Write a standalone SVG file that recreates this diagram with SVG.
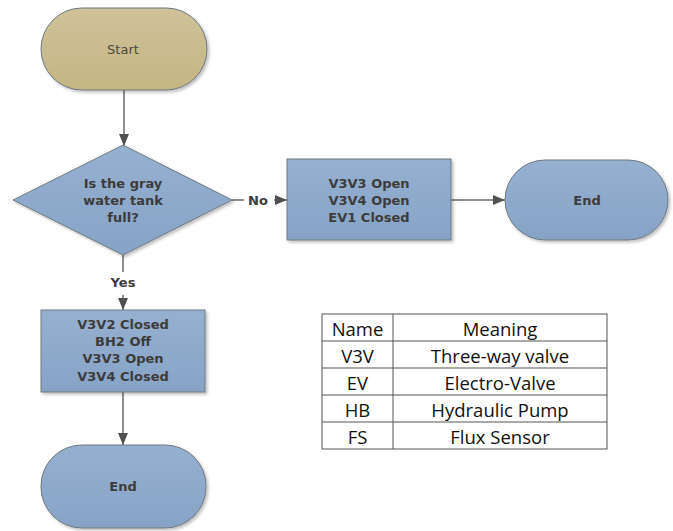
<svg xmlns="http://www.w3.org/2000/svg" width="673" height="531" viewBox="0 0 673 531">
  <style>
    .shape { stroke: #6f7880; stroke-width: 1; }
    .blue { fill: url(#blueFill); }
    .tan { fill: url(#tanFill); }
    .lbl { font-family: "DejaVu Sans", Verdana, sans-serif; font-size: 13px; font-weight: bold; fill: #3c3c3c; text-anchor: middle; }
    .start { font-family: "DejaVu Sans", Verdana, sans-serif; font-size: 13px; fill: #4a4a42; text-anchor: middle; }
    .edge { stroke: #6a6a6a; stroke-width: 1.5; fill: none; }
    .elbl { font-family: "DejaVu Sans", Verdana, sans-serif; font-size: 13px; font-weight: bold; fill: #3c3c3c; text-anchor: middle; }
    .tbl { font-family: "Open Sans", Lato, sans-serif; font-size: 18.5px; fill: #111; text-anchor: middle; }
    .grid { stroke: #555; stroke-width: 1; fill: none; }
  </style>
  <defs>
    <linearGradient id="blueFill" x1="0" y1="0" x2="0" y2="1">
      <stop offset="0" stop-color="#96b0d0"/>
      <stop offset="1" stop-color="#86a3c6"/>
    </linearGradient>
    <linearGradient id="tanFill" x1="0" y1="0" x2="0" y2="1">
      <stop offset="0" stop-color="#cfc29a"/>
      <stop offset="1" stop-color="#c4b583"/>
    </linearGradient>
    <filter id="shadow" x="-10%" y="-10%" width="130%" height="130%">
      <feDropShadow dx="2" dy="2" stdDeviation="1.5" flood-color="#000" flood-opacity="0.25"/>
    </filter>
    <marker id="arrow" markerWidth="12" markerHeight="10" refX="12" refY="5" orient="auto" markerUnits="userSpaceOnUse">
      <path d="M0,0 L12,5 L0,10 Z" fill="#505050"/>
    </marker>
  </defs>

  <rect width="673" height="531" fill="#ffffff"/>

  <!-- connectors -->
  <g id="connectors">
    <line class="edge" x1="124" y1="90" x2="124" y2="146" marker-end="url(#arrow)"/>
    <line class="edge" x1="232" y1="200" x2="244" y2="200"/>
    <text class="elbl" x="258" y="205">No</text>
    <line class="edge" x1="274" y1="200" x2="287" y2="200" marker-end="url(#arrow)"/>
    <line class="edge" x1="451" y1="200" x2="505" y2="200" marker-end="url(#arrow)"/>
    <line class="edge" x1="123" y1="255" x2="123" y2="272"/>
    <text class="elbl" x="123" y="287">Yes</text>
    <line class="edge" x1="123" y1="295" x2="123" y2="310" marker-end="url(#arrow)"/>
    <line class="edge" x1="123" y1="392" x2="123" y2="445" marker-end="url(#arrow)"/>
  </g>

  <!-- start terminal -->
  <g id="start">
    <rect class="shape tan" x="41" y="8" width="166" height="82" rx="41" ry="41" filter="url(#shadow)"/>
    <text class="start" x="123" y="54">Start</text>
  </g>

  <!-- decision -->
  <g id="decision">
    <polygon class="shape blue" points="123,145 232,200 123,255 13,200" filter="url(#shadow)"/>
    <text class="lbl" x="123" y="188">Is the gray</text>
    <text class="lbl" x="123" y="205">water tank</text>
    <text class="lbl" x="123" y="222">full?</text>
  </g>

  <!-- no branch actions -->
  <g id="actionNo">
    <rect class="shape blue" x="287" y="159" width="164" height="81" filter="url(#shadow)"/>
    <text class="lbl" x="369" y="188">V3V3 Open</text>
    <text class="lbl" x="369" y="205">V3V4 Open</text>
    <text class="lbl" x="369" y="222">EV1 Closed</text>
  </g>

  <!-- end terminal (no branch) -->
  <g id="endNo">
    <rect class="shape blue" x="505" y="160" width="163" height="80" rx="40" ry="40" filter="url(#shadow)"/>
    <text class="lbl" x="587" y="205">End</text>
  </g>

  <!-- yes branch actions -->
  <g id="actionYes">
    <rect class="shape blue" x="41" y="310" width="164" height="82" filter="url(#shadow)"/>
    <text class="lbl" x="123" y="329">V3V2 Closed</text>
    <text class="lbl" x="123" y="346">BH2 Off</text>
    <text class="lbl" x="123" y="363">V3V3 Open</text>
    <text class="lbl" x="123" y="381">V3V4 Closed</text>
  </g>

  <!-- end terminal (yes branch) -->
  <g id="endYes">
    <rect class="shape blue" x="41" y="445" width="165" height="83" rx="41" ry="41" filter="url(#shadow)"/>
    <text class="lbl" x="123" y="491">End</text>
  </g>

  <!-- abbreviation table -->
  <g id="legend">
    <rect class="grid" x="322" y="314" width="285" height="135" fill="#fff"/>
    <line class="grid" x1="393" y1="314" x2="393" y2="449"/>
    <line class="grid" x1="322" y1="341" x2="607" y2="341"/>
    <line class="grid" x1="322" y1="368" x2="607" y2="368"/>
    <line class="grid" x1="322" y1="395" x2="607" y2="395"/>
    <line class="grid" x1="322" y1="422" x2="607" y2="422"/>
    <text class="tbl" x="357.5" y="336">Name</text>
    <text class="tbl" x="500" y="336">Meaning</text>
    <text class="tbl" x="357.5" y="363">V3V</text>
    <text class="tbl" x="500" y="363">Three-way valve</text>
    <text class="tbl" x="357.5" y="390">EV</text>
    <text class="tbl" x="500" y="390">Electro-Valve</text>
    <text class="tbl" x="357.5" y="417">HB</text>
    <text class="tbl" x="500" y="417">Hydraulic Pump</text>
    <text class="tbl" x="357.5" y="444">FS</text>
    <text class="tbl" x="500" y="444">Flux Sensor</text>
  </g>
</svg>
